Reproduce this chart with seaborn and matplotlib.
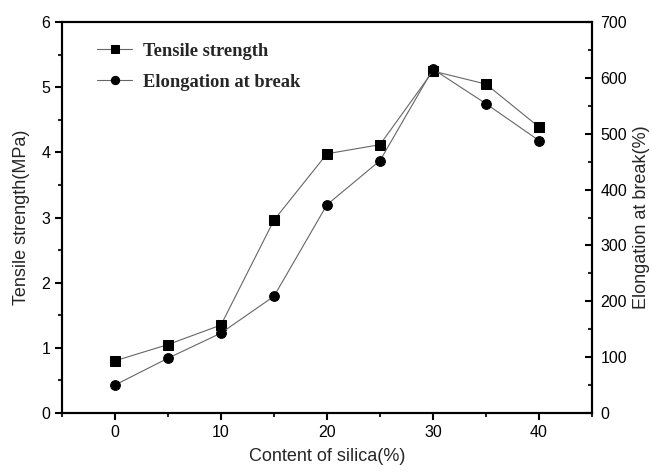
import numpy as np
import pandas as pd
import matplotlib
matplotlib.use('Agg')
import matplotlib.pyplot as plt
from matplotlib.ticker import MultipleLocator
import seaborn as sns

sns.set_style('ticks')
plt.rcParams['font.family'] = ['Liberation Sans', 'DejaVu Sans']

silica = [0, 5, 10, 15, 20, 25, 30, 35, 40]
tensile = [0.80, 1.05, 1.35, 2.96, 3.98, 4.12, 5.25, 5.05, 4.39]
elongation = [50, 98, 143, 209, 373, 452, 616, 554, 488]

df = pd.DataFrame({'silica': silica, 'tensile': tensile, 'elongation': elongation})

fig = plt.figure(figsize=(6.52, 4.73), dpi=100)
ax = fig.add_axes([0.095, 0.127, 0.813, 0.826])
ax2 = ax.twinx()

line_kw = dict(color='#666666', linewidth=0.8, markersize=7,
               markerfacecolor='black', markeredgecolor='black')
sns.lineplot(data=df, x='silica', y='tensile', ax=ax, marker='s',
             label='Tensile strength', legend=False, **line_kw)
sns.lineplot(data=df, x='silica', y='elongation', ax=ax2, marker='o',
             label='Elongation at break', legend=False, **line_kw)

ax.set_xlim(-5, 45)
ax.set_ylim(0, 6)
ax2.set_ylim(0, 700)
ax.xaxis.set_major_locator(MultipleLocator(10))
ax.xaxis.set_minor_locator(MultipleLocator(5))
ax.yaxis.set_major_locator(MultipleLocator(1))
ax.yaxis.set_minor_locator(MultipleLocator(0.5))
ax2.yaxis.set_major_locator(MultipleLocator(100))
ax2.yaxis.set_minor_locator(MultipleLocator(50))

for a in (ax, ax2):
    for s in a.spines.values():
        s.set_linewidth(1.5)
        s.set_color('black')
ax.tick_params(axis='both', which='major', direction='out', length=5, width=1.5,
               labelsize=11.5, colors='black', top=False, right=False)
ax.tick_params(axis='both', which='minor', direction='out', length=3, width=1.5,
               top=False, right=False)
ax2.tick_params(axis='y', which='major', direction='in', length=5, width=1.5,
                labelsize=11.5, colors='black', pad=6)
ax2.tick_params(axis='y', which='minor', direction='in', length=3, width=1.5)

ax.set_xlabel('Content of silica(%)', fontsize=13, labelpad=6)
ax.set_ylabel('Tensile strength(MPa)', fontsize=13, labelpad=8)
ax2.set_ylabel('Elongation at break(%)', fontsize=13, labelpad=4)

h1, l1 = ax.get_legend_handles_labels()
h2, l2 = ax2.get_legend_handles_labels()
leg = ax.legend(h1 + h2, l1 + l2, loc='upper left', frameon=False,
                prop={'family': 'Liberation Serif', 'weight': 'bold', 'size': 13.3},
                bbox_to_anchor=(0.035, 0.99), handlelength=1.9, handletextpad=0.6,
                labelspacing=0.75, markerscale=0.85)

fig.savefig('out.png', dpi=100)
